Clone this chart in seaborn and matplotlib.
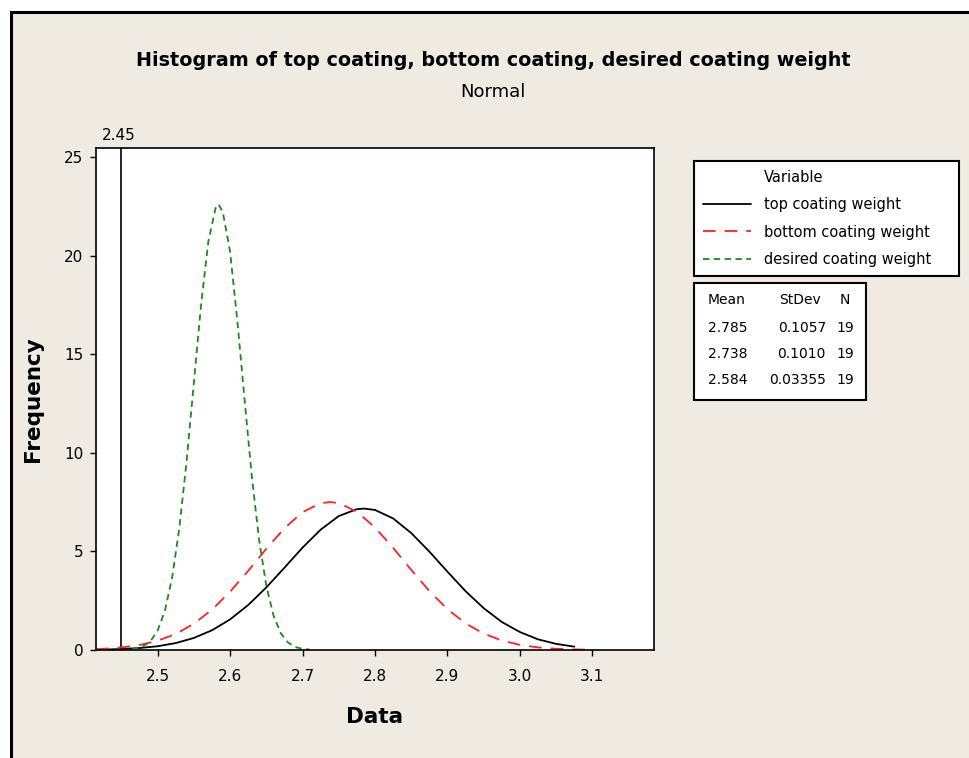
import matplotlib
matplotlib.use("Agg")
import matplotlib.pyplot as plt
from matplotlib.lines import Line2D
from matplotlib.patches import Rectangle
import seaborn as sns
import pandas as pd

# ---- data ----
series_names = ["top coating weight", "bottom coating weight", "desired coating weight"]

top_x = [2.415, 2.425, 2.450, 2.475, 2.500, 2.525, 2.550, 2.575, 2.600, 2.625, 2.650,
         2.675, 2.700, 2.725, 2.750, 2.775, 2.785, 2.800, 2.825, 2.850, 2.875, 2.900,
         2.925, 2.950, 2.975, 3.000, 3.025, 3.050, 3.075]
top_y = [0.01, 0.02, 0.05, 0.10, 0.19, 0.35, 0.61, 1.00, 1.55, 2.28, 3.17,
         4.17, 5.19, 6.10, 6.79, 7.14, 7.17, 7.10, 6.67, 5.93, 4.99, 3.97,
         2.98, 2.12, 1.42, 0.91, 0.54, 0.31, 0.17]

bottom_x = [2.415, 2.425, 2.450, 2.475, 2.500, 2.525, 2.550, 2.575, 2.600, 2.625, 2.650,
            2.675, 2.700, 2.725, 2.738, 2.750, 2.775, 2.800, 2.825, 2.850, 2.875, 2.900,
            2.925, 2.950, 2.975, 3.000, 3.025, 3.050, 3.075, 3.100]
bottom_y = [0.04, 0.06, 0.13, 0.25, 0.47, 0.81, 1.33, 2.04, 2.95, 4.01, 5.13,
            6.17, 6.99, 7.44, 7.50, 7.45, 7.01, 6.21, 5.18, 4.06, 2.99, 2.07,
            1.35, 0.83, 0.48, 0.26, 0.13, 0.06, 0.03, 0.01]

desired_x = [2.45, 2.46, 2.47, 2.48, 2.49, 2.50, 2.51, 2.52, 2.53, 2.54, 2.55, 2.56,
             2.57, 2.58, 2.584, 2.59, 2.60, 2.61, 2.62, 2.63, 2.64, 2.65, 2.66, 2.67,
             2.68, 2.69, 2.70, 2.71]
desired_y = [0.01, 0.02, 0.07, 0.19, 0.44, 0.98, 1.98, 3.66, 6.18, 9.56, 13.53, 17.5,
             20.7, 22.4, 22.6, 22.2, 20.2, 16.7, 12.7, 8.8, 5.6, 3.26, 1.74, 0.85,
             0.38, 0.15, 0.06, 0.02]

means = ["2.785", "2.738", "2.584"]
stdevs = ["0.1057", "0.1010", "0.03355"]
counts = ["19", "19", "19"]

ref_line = 2.45
x_ticks = [2.5, 2.6, 2.7, 2.8, 2.9, 3.0, 3.1]
y_ticks = [0, 5, 10, 15, 20, 25]

# ---- figure ----
sns.set_theme(style="white")
plt.rcParams["font.family"] = ["DejaVu Sans"]
plt.rcParams.update({"text.color": "black", "axes.labelcolor": "black",
                     "xtick.color": "black", "ytick.color": "black"})

W, H = 970, 758
fig = plt.figure(figsize=(W / 100, H / 100), dpi=100, facecolor="white")
bg = "#efebe2"
fig.patches.append(Rectangle((11 / W, -0.05), 1.1, (H - 12) / H + 0.05,
                             transform=fig.transFigure, facecolor=bg,
                             edgecolor="black", linewidth=2.2, zorder=-10))

ax = fig.add_axes([96 / W, 1 - 650 / H, (654 - 96) / W, (650 - 148) / H])
ax.set_facecolor("white")

df = pd.concat([
    pd.DataFrame({"x": top_x, "y": top_y, "var": series_names[0]}),
    pd.DataFrame({"x": bottom_x, "y": bottom_y, "var": series_names[1]}),
    pd.DataFrame({"x": desired_x, "y": desired_y, "var": series_names[2]}),
])

colors = {series_names[0]: "black", series_names[1]: "#ff2020", series_names[2]: "#1a8a1a"}
dashes = {series_names[0]: "", series_names[1]: (7, 5), series_names[2]: (3.5, 2.5)}
sns.lineplot(data=df, x="x", y="y", hue="var", style="var", palette=colors,
             dashes=dashes, linewidth=1.3, ax=ax, legend=False, sort=True)

ax.axvline(ref_line, color="black", linewidth=1.2, zorder=1)
ax.text(ref_line - 0.004, 25.7, "2.45", ha="center", va="bottom", fontsize=11)

ax.set_xlim(2.415, 3.185)
ax.set_ylim(0, 25.45)
ax.set_xticks(x_ticks)
ax.set_xticklabels([f"{v:.1f}" for v in x_ticks])
ax.set_yticks(y_ticks)
ax.tick_params(axis="x", direction="out", length=4, width=1, color="black",
               labelsize=11, pad=10, bottom=True)
ax.tick_params(axis="y", direction="out", length=4, width=1, color="black",
               labelsize=11, pad=5, left=True)
for s in ax.spines.values():
    s.set_color("black")
    s.set_linewidth(1.2)

ax.set_xlabel("Data", fontsize=15.5, fontweight="bold", labelpad=16)
ax.set_ylabel("Frequency", fontsize=15.5, fontweight="bold", labelpad=15)

fig.text(493 / W, 1 - 60 / H, "Histogram of top coating, bottom coating, desired coating weight",
         ha="center", va="center", fontsize=13.8, fontweight="bold")
fig.text(493 / W, 1 - 92 / H, "Normal", ha="center", va="center", fontsize=13)

# legend
handles = [Line2D([], [], color="none"),
           Line2D([], [], color="black", lw=1.3),
           Line2D([], [], color="#ff2020", lw=1.3, dashes=(7, 5)),
           Line2D([], [], color="#1a8a1a", lw=1.3, dashes=(3.5, 2.5))]
labels = ["Variable"] + series_names
leg_x0, leg_x1, leg_y0, leg_y1 = 694, 959, 161, 276
leg = fig.legend(handles, labels, loc="upper left", mode="expand",
                 bbox_to_anchor=(leg_x0 / W, 1 - leg_y1 / H, (leg_x1 - leg_x0) / W,
                                 (leg_y1 - leg_y0) / H),
                 fontsize=10.5,
                 frameon=True, fancybox=False, edgecolor="black", facecolor="white",
                 framealpha=1, handlelength=3.3, handletextpad=0.85, labelspacing=0.84,
                 borderpad=0.62, borderaxespad=0)
leg.get_frame().set_linewidth(1.5)

# stats table
fig.patches.append(Rectangle((694 / W, 1 - 400 / H), (866 - 694) / W, (400 - 283) / H,
                             transform=fig.transFigure, facecolor="white",
                             edgecolor="black", linewidth=1.5, zorder=5))
row_y = [300, 328, 354, 380]
fig.text(727 / W, 1 - row_y[0] / H, "Mean", ha="center", va="center", fontsize=10, zorder=6)
fig.text(800 / W, 1 - row_y[0] / H, "StDev", ha="center", va="center", fontsize=10, zorder=6)
fig.text(845 / W, 1 - row_y[0] / H, "N", ha="center", va="center", fontsize=10, zorder=6)
for i in range(3):
    yy = 1 - row_y[i + 1] / H
    fig.text(728 / W, yy, means[i], ha="center", va="center", fontsize=10, zorder=6)
    fig.text(826 / W, yy, stdevs[i], ha="right", va="center", fontsize=10, zorder=6)
    fig.text(845 / W, yy, counts[i], ha="center", va="center", fontsize=10, zorder=6)

fig.savefig("out.png", dpi=100, facecolor=fig.get_facecolor())
